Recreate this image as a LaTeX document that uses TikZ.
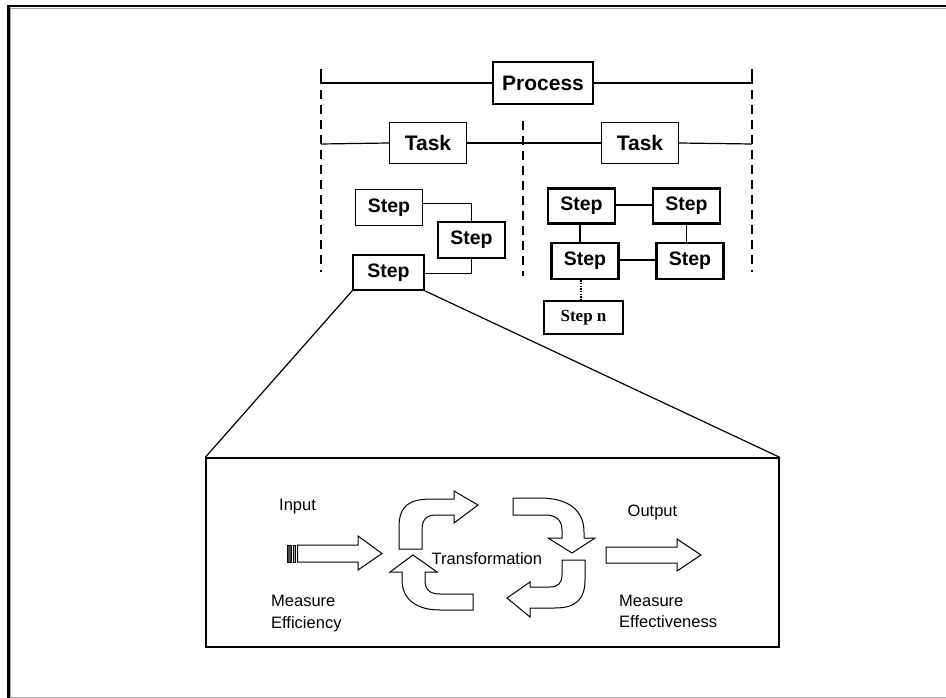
\documentclass[tikz,border=0pt]{standalone}
\usepackage{fontspec}
\setmainfont{Liberation Sans}
\newfontfamily\serifface{Liberation Serif}
\begin{document}
\begin{tikzpicture}[x=1pt,y=-1pt,
  procbox/.style={draw, line width=1.3pt, inner sep=0pt, minimum width=100pt, minimum height=42pt, font=\fontsize{21}{25}\selectfont\bfseries},
  taskbox/.style={draw, line width=1.4pt, inner sep=0pt, minimum width=77pt, minimum height=41pt, font=\fontsize{21}{25}\selectfont\bfseries},
  lstep/.style={draw, line width=1.6pt, inner sep=0pt, minimum width=67pt, minimum height=36pt, font=\fontsize{19.5}{23}\selectfont\bfseries},
  rstep/.style={draw, line width=2.2pt, inner sep=0pt, minimum width=67pt, minimum height=36pt, font=\fontsize{19.5}{23}\selectfont\bfseries},
  stepnbox/.style={draw, line width=1.3pt, inner sep=0pt, minimum width=79pt, minimum height=33pt, font=\fontsize{17}{20}\selectfont\serifface\bfseries},
  conn/.style={line width=1.2pt},
  dashline/.style={line width=2pt, dash pattern=on 9pt off 6pt},
  flowarrow/.style={draw, line width=1pt, fill=white, line join=miter},
  lbl/.style={inner sep=0pt, font=\fontsize{16.5}{20}\selectfont, anchor=base west}
]
\useasboundingbox (0,0) rectangle (946,698);
% frame
\draw[line width=2.5pt] (7,6) -- (946,6);
\draw[line width=3pt] (8.5,4.75) -- (8.5,698);
\draw[black!35, line width=0.8pt] (10.5,8) -- (946,8);
\draw[black!35, line width=0.8pt] (10.5,8) -- (10.5,698);
\draw[black!35, line width=1.2pt] (10,697.4) -- (946,697.4);

% top level
\node[procbox] (proc) at (543,83) {Process};
\node[taskbox] (task1) at (428,143) {Task};
\node[taskbox] (task2) at (640,143) {Task};

\coordinate (pl) at (321,83);
\coordinate (pr) at (752,83);
\coordinate (plt) at (321,69);
\coordinate (prt) at (752,69);
\draw[conn] (plt) -- (pl) -- (proc.west);
\draw[conn] (proc.east) -- (pr) -- (prt);

\coordinate (tl) at (321,144);
\coordinate (tr) at (752,144);
\draw[conn] (tl) -- (task1.west);
\draw[conn] (task1.east) -- (task2.west);
\draw[conn] (task2.east) -- (tr);

\coordinate (dl1) at (321,90);  \coordinate (dl2) at (321,272);
\coordinate (dr1) at (752,90);  \coordinate (dr2) at (752,272);
\coordinate (dm1) at (523,121); \coordinate (dm2) at (523,276);
\draw[dashline] (dl1) -- (dl2);
\draw[dashline] (dr1) -- (dr2);
\draw[dashline] (dm1) -- (dm2);

% left steps
\node[lstep] (sa) at (389,207.5) {Step};
\node[lstep] (sb) at (471.5,240) {Step};
\node[lstep, minimum width=71pt, minimum height=35pt] (sc) at (388.5,272.5) {Step};
\draw[conn] (sa.east |- 0,203.5) -| (sb.north);
\draw[conn] (sb.south) |- (sc.east |- 0,273.5);

% right steps
\node[rstep, minimum height=35pt] (r1) at (581.5,206) {Step};
\node[rstep, minimum height=35pt] (r2) at (686.5,206) {Step};
\node[rstep] (r3) at (585,261) {Step};
\node[rstep] (r4) at (690,261) {Step};
\node[stepnbox] (rn) at (583.5,317.5) {Step n};
\draw[conn] (r1.east |- 0,205) -- (r2.west |- 0,205);
\draw[conn] (r1.south -| 580,0) -- (r3.north -| 580,0);
\draw[conn] (r2.south -| 686.5,0) -- (r4.north -| 686.5,0);
\draw[conn] (r3.east |- 0,260) -- (r4.west |- 0,260);
\draw[line width=2pt, dash pattern=on 1.5pt off 1.2pt] (r3.south -| 580.5,0) -- (rn.north -| 580.5,0);

% detail box
\node[draw, line width=1.4pt, inner sep=0pt, minimum width=573pt, minimum height=189pt] (detail) at (492.5,552.5) {};
\draw[conn] (sc.south west) -- (detail.north west);
\draw[conn] (sc.south east) -- (detail.north east);

% input arrow (striped)
\draw[line width=1pt, fill=black!70] (287,545) rectangle (291,562);
\draw[line width=1pt, fill=black!30] (293,545) rectangle (295.5,562);
\draw[flowarrow] (297.5,545) -- (358,545) -- (358,536) -- (382,553.5) -- (358,570) -- (358,562) -- (297.5,562) -- cycle;
% output arrow
\draw[flowarrow] (606,547) -- (677,547) -- (677,539) -- (701,555) -- (677,571) -- (677,563) -- (606,563) -- cycle;

% cycle arrows
\draw[flowarrow] (399,549) -- (399,527) .. controls (399,505) and (410,499) .. (432,499) -- (454,499) -- (454,491) -- (478,505) -- (454,523) -- (454,515) -- (436,515) .. controls (426,515) and (422,520) .. (422,530) -- (422,549) -- cycle;
\draw[flowarrow] (513,498) -- (540,498) .. controls (568,498) and (584,510) .. (584,532) -- (584,538) -- (595,538) -- (572,553) -- (548,538) -- (562,538) -- (562,530) .. controls (562,520) and (556,515) .. (545,515) -- (513,515) -- cycle;
\draw[flowarrow] (562,560) -- (585,560) -- (585,580) .. controls (585,600) and (575,608) .. (555,608) -- (530,608) -- (530,617) -- (507,598) -- (530,582) -- (530,587) -- (550,587) .. controls (558,587) and (562,583) .. (562,575) -- cycle;
\draw[flowarrow] (473,594) -- (473,610) -- (440,610) .. controls (415,610) and (402,598) .. (402,580) -- (402,572) -- (390,572) -- (413,555) -- (437,572) -- (425,572) -- (425,580) .. controls (425,590) and (430,594) .. (440,594) -- cycle;

% labels
\node[lbl] (tin) at (279,510.5) {Input};
\node[lbl] (tout) at (627.5,516) {Output};
\node[lbl] (ttr) at (431.5,564) {Transformation};
\node[lbl] (me1) at (271,606) {Measure};
\node[lbl] (me2) at (271,628) {Efficiency};
\node[lbl] (mf1) at (619,606) {Measure};
\node[lbl] (mf2) at (619,627.5) {Effectiveness};
\end{tikzpicture}
\end{document}
